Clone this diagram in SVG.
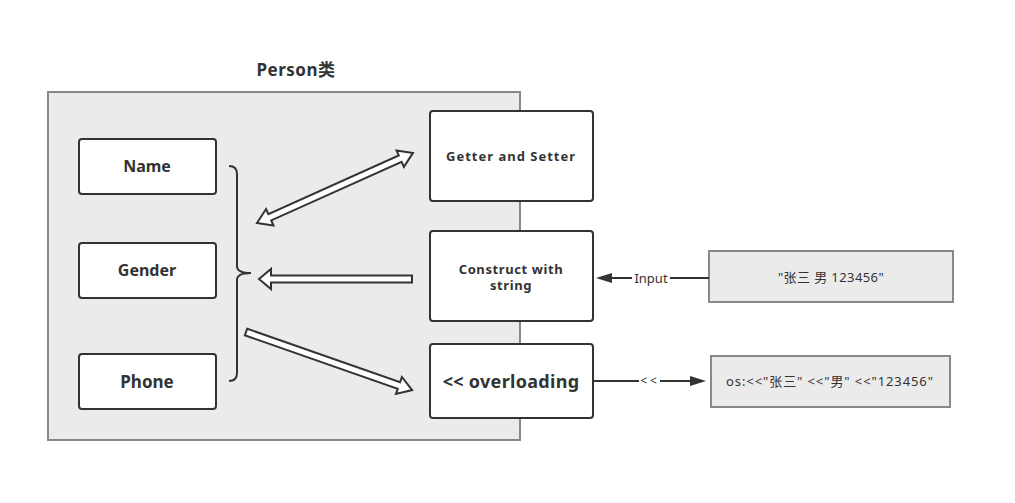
<svg xmlns="http://www.w3.org/2000/svg" width="1015" height="503" viewBox="0 0 1015 503">
<style>
text{font-family:"Noto Sans","Noto Sans CJK SC",sans-serif;fill:#333;text-anchor:middle}
.b{font-weight:bold}
.node{fill:#fff;stroke:#333;stroke-width:2}
.grey{fill:#ebebeb;stroke:#888;stroke-width:2}
.blk{fill:#fff;stroke:#333;stroke-width:2;stroke-linejoin:miter}
.ln{stroke:#333;stroke-width:2;fill:none}
</style>
<rect width="1015" height="503" fill="#fff"/>
<g id="person">
<rect class="grey" x="48" y="92" width="472" height="348"/>
<text class="b" x="296" y="76" font-size="17" letter-spacing="0.5">Person类</text>
</g>
<g id="name"><rect class="node" x="79" y="139" width="137" height="55" rx="3"/><text class="b" x="147" y="172" font-size="16">Name</text></g>
<g id="gender"><rect class="node" x="79" y="243" width="137" height="55" rx="3"/><text class="b" x="147" y="276" font-size="16">Gender</text></g>
<g id="phone"><rect class="node" x="79" y="354" width="137" height="55" rx="3"/><text class="b" x="147" y="388" font-size="17">Phone</text></g>
<g id="getter"><rect class="node" x="430" y="111" width="163" height="90" rx="3"/><text class="b" x="511" y="161" font-size="13" letter-spacing="1">Getter and Setter</text></g>
<g id="construct"><rect class="node" x="430" y="231" width="163" height="90" rx="3"/><text class="b" x="511" y="274" font-size="13" letter-spacing="0.6">Construct with</text><text class="b" x="511" y="290" font-size="13" letter-spacing="0.6">string</text></g>
<g id="overloading"><rect class="node" x="430" y="344" width="163" height="74" rx="3"/><text class="b" x="511" y="388" font-size="18" letter-spacing="0.3">&lt;&lt; overloading</text></g>
<g id="input"><rect class="grey" x="709" y="251" width="244" height="51"/><text x="831" y="282" font-size="13" letter-spacing="0.4">"张三 男 123456"</text></g>
<g id="os"><rect class="grey" x="711" y="356" width="239" height="51"/><text x="830" y="386" font-size="13" letter-spacing="0.9">os:&lt;&lt;"张三" &lt;&lt;"男" &lt;&lt;"123456"</text></g>
<g id="connectors">
<path class="ln" d="M229,166 Q237,166 237,174 V266 Q237,273 251,273 Q237,273 237,280 V373 Q237,381 229,381"/>
<polygon class="blk" transform="translate(257,223) rotate(-24.2)" points="0,0 14,-9 14,-3.5 157,-3.5 157,-9 171,0 157,9 157,3.5 14,3.5 14,9"/>
<polygon class="blk" points="259,279 271,269 271,275.5 412,275.5 412,282.5 271,282.5 271,289"/>
<polygon class="blk" transform="translate(246,332) rotate(19.26)" points="0,-3.5 162,-3.5 162,-9 176,0 162,9 162,3.5 0,3.5"/>
<line class="ln" x1="709" y1="278" x2="670" y2="278"/>
<line class="ln" x1="632" y1="278" x2="610" y2="278"/>
<polygon fill="#333" points="596,278 612,273 612,283"/>
<text x="651" y="283" font-size="13">Input</text>
<line class="ln" x1="593" y1="381" x2="639" y2="381"/>
<line class="ln" x1="660" y1="381" x2="692" y2="381"/>
<polygon fill="#333" points="706,381 690,376 690,386"/>
<text x="650" y="385" font-size="12" letter-spacing="3">&lt;&lt;</text>
</g>
</svg>
